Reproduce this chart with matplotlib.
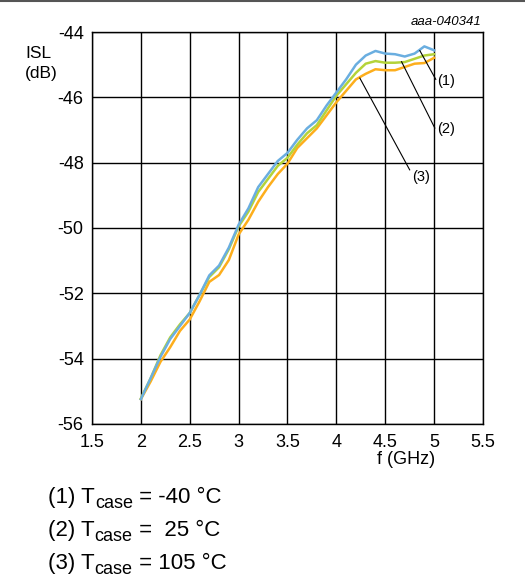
import numpy as np
import matplotlib
matplotlib.use("Agg")
import matplotlib.pyplot as plt
from matplotlib.lines import Line2D

plt.rcParams['font.family'] = ['Liberation Sans', 'DejaVu Sans']

# frequency points (GHz)
freq = [2.0, 2.1, 2.2, 2.3, 2.4, 2.5, 2.6, 2.7, 2.8, 2.9, 3.0,
        3.1, 3.2, 3.3, 3.4, 3.5, 3.6, 3.7, 3.8, 3.9, 4.0,
        4.1, 4.2, 4.3, 4.4, 4.5, 4.6, 4.7, 4.8, 4.9, 5.0]

# ISL (dB), Tcase = -40 C
isl_m40 = [-55.24, -54.6, -53.95, -53.4, -53.0, -52.6, -52.05, -51.45, -51.15, -50.6, -49.9,
           -49.4, -48.75, -48.35, -47.95, -47.7, -47.3, -46.95, -46.7, -46.25, -45.85,
           -45.45, -45.0, -44.72, -44.58, -44.66, -44.68, -44.75, -44.66, -44.44, -44.56]
# Tcase = 25 C
isl_25 = [-55.22, -54.6, -53.9, -53.35, -52.95, -52.6, -52.05, -51.5, -51.2, -50.65, -49.95,
          -49.5, -48.9, -48.5, -48.1, -47.85, -47.45, -47.1, -46.85, -46.4, -45.95,
          -45.6, -45.25, -44.97, -44.89, -44.94, -44.94, -44.92, -44.82, -44.72, -44.68]
# Tcase = 105 C
isl_105 = [-55.24, -54.7, -54.1, -53.65, -53.15, -52.8, -52.25, -51.65, -51.44, -50.98, -50.2,
           -49.75, -49.2, -48.75, -48.35, -48.03, -47.55, -47.25, -46.95, -46.55, -46.15,
           -45.8, -45.45, -45.28, -45.14, -45.17, -45.17, -45.07, -44.97, -44.95, -44.79]

xticks = [1.5, 2, 2.5, 3, 3.5, 4, 4.5, 5, 5.5]
xticklabels = ['1.5', '2', '2.5', '3', '3.5', '4', '4.5', '5', '5.5']
yticks = [-56, -54, -52, -50, -48, -46, -44]

conditions = [('(1) T', ' = -40 °C'), ('(2) T', ' =  25 °C'), ('(3) T', ' = 105 °C')]

fig = plt.figure(figsize=(5.25, 5.82), dpi=100)
ax = fig.add_axes([0.1752, 0.2715, 0.7448, 0.6735])

ax.plot(freq, isl_105, color='#FDAE1C', lw=1.8, zorder=3)
ax.plot(freq, isl_25, color='#B4D33A', lw=1.8, zorder=4)
ax.plot(freq, isl_m40, color='#6AAEE0', lw=1.8, zorder=5)

ax.set_xlim(1.5, 5.5)
ax.set_ylim(-56, -44)
ax.set_xticks(xticks)
ax.set_xticklabels(xticklabels)
ax.set_yticks(yticks)
ax.set_yticklabels([str(v) for v in yticks])
ax.grid(True, color='black', lw=1.0)
ax.tick_params(length=0, labelsize=13)
ax.tick_params(axis='x', pad=7)
ax.tick_params(axis='y', pad=6)
for s in ax.spines.values():
    s.set_color('black')
    s.set_linewidth(1.0)

# leader lines and curve labels
for (x0, y0, x1, y1, lab, tx, ty) in [
        (4.854, -44.57, 5.017, -45.45, '(1)', 5.03, -45.5),
        (4.667, -44.91, 5.007, -46.94, '(2)', 5.03, -46.98),
        (4.24, -45.41, 4.75, -48.22, '(3)', 4.77, -48.45)]:
    ax.plot([x0, x1], [y0, y1], color='black', lw=0.8, zorder=6)
    ax.text(tx, ty, lab, fontsize=10.5, ha='left', va='center', zorder=6)

fig.text(0.074, 0.908, 'ISL', fontsize=12.5, ha='center', va='center')
fig.text(0.078, 0.873, '(dB)', fontsize=12.5, ha='center', va='center')
fig.text(0.774, 0.211, 'f (GHz)', fontsize=13, ha='center', va='center')
fig.text(0.918, 0.962, 'aaa-040341', fontsize=9.5, style='italic', ha='right', va='center')

fig.add_artist(Line2D([0, 1], [0.998, 0.998], color='#555555', lw=1.5))

# condition notes below the chart: main text + subscript "case"
renderer = fig.canvas.get_renderer()
fw = fig.bbox.width
for i, (pre, post) in enumerate(conditions):
    yb = 0.1357 - i * 0.0567
    t1 = fig.text(0.0915, yb, pre, fontsize=16, va='baseline')
    x1 = t1.get_window_extent(renderer).x1 / fw
    t2 = fig.text(x1, yb - 0.0086, 'case', fontsize=13, va='baseline')
    x2 = t2.get_window_extent(renderer).x1 / fw
    fig.text(x2, yb, post, fontsize=16, va='baseline')

fig.savefig('out.png', dpi=100)
